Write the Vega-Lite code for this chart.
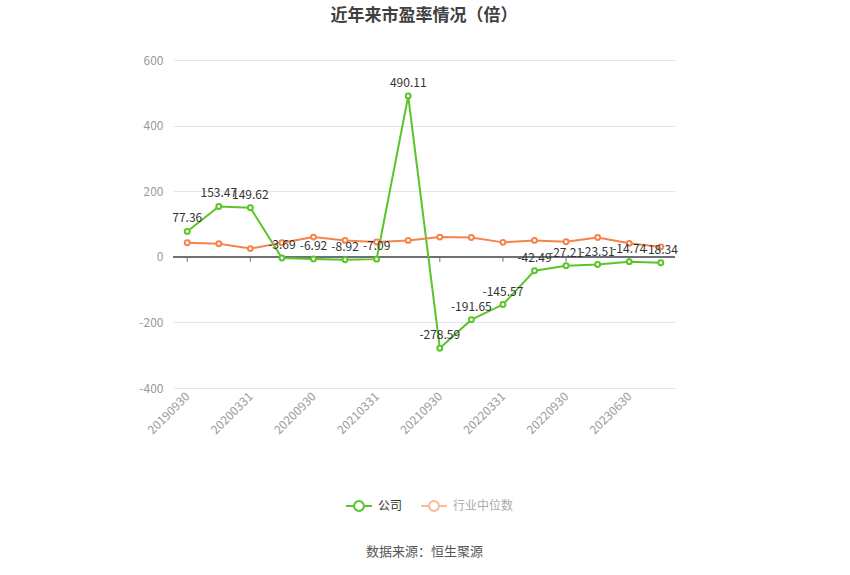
{
  "$schema": "https://vega.github.io/schema/vega-lite/v6.json",
  "autosize": "none",
  "width": 502,
  "height": 328,
  "padding": {"left": 173, "top": 60, "right": 175, "bottom": 187},
  "background": "white",
  "view": {"stroke": null},
  "title": {
    "text": "近年来市盈率情况（倍）",
    "anchor": "middle",
    "offset": 29,
    "fontSize": 17,
    "fontWeight": "bold",
    "color": "#404040",
    "font": "Noto Sans CJK SC"
  },
  "data": {
    "values": [
      {"date": "20190930", "series": "公司", "value": 77.36},
      {"date": "20191231", "series": "公司", "value": 153.47},
      {"date": "20200331", "series": "公司", "value": 149.62},
      {"date": "20200630", "series": "公司", "value": -3.69},
      {"date": "20200930", "series": "公司", "value": -6.92},
      {"date": "20201231", "series": "公司", "value": -8.92},
      {"date": "20210331", "series": "公司", "value": -7.09},
      {"date": "20210630", "series": "公司", "value": 490.11},
      {"date": "20210930", "series": "公司", "value": -278.59},
      {"date": "20211231", "series": "公司", "value": -191.65},
      {"date": "20220331", "series": "公司", "value": -145.57},
      {"date": "20220630", "series": "公司", "value": -42.49},
      {"date": "20220930", "series": "公司", "value": -27.21},
      {"date": "20221231", "series": "公司", "value": -23.51},
      {"date": "20230630", "series": "公司", "value": -14.74},
      {"date": "20230930", "series": "公司", "value": -18.34},
      {"date": "20190930", "series": "行业中位数", "value": 43},
      {"date": "20191231", "series": "行业中位数", "value": 40},
      {"date": "20200331", "series": "行业中位数", "value": 25},
      {"date": "20200630", "series": "行业中位数", "value": 43},
      {"date": "20200930", "series": "行业中位数", "value": 60},
      {"date": "20201231", "series": "行业中位数", "value": 50},
      {"date": "20210331", "series": "行业中位数", "value": 45},
      {"date": "20210630", "series": "行业中位数", "value": 50},
      {"date": "20210930", "series": "行业中位数", "value": 60},
      {"date": "20211231", "series": "行业中位数", "value": 59},
      {"date": "20220331", "series": "行业中位数", "value": 44},
      {"date": "20220630", "series": "行业中位数", "value": 50},
      {"date": "20220930", "series": "行业中位数", "value": 46},
      {"date": "20221231", "series": "行业中位数", "value": 59},
      {"date": "20230630", "series": "行业中位数", "value": 41},
      {"date": "20230930", "series": "行业中位数", "value": 30}
    ]
  },
  "encoding": {
    "x": {
      "field": "date",
      "type": "ordinal",
      "scale": {
        "type": "point",
        "padding": 0.45,
        "domain": ["20190930", "20191231", "20200331", "20200630", "20200930", "20201231", "20210331", "20210630", "20210930", "20211231", "20220331", "20220630", "20220930", "20221231", "20230630", "20230930"]
      },
      "axis": {
        "values": ["20190930", "20200331", "20200930", "20210331", "20210930", "20220331", "20220930", "20230630"],
        "labelAngle": -45,
        "labelAlign": "right",
        "labelBaseline": "middle",
        "labelColor": "#9a9a9a",
        "labelFontSize": 12,
        "labelFont": "Noto Sans CJK SC",
        "labelPadding": 6,
        "domain": false,
        "ticks": false,
        "grid": false,
        "title": "数据来源：恒生聚源",
        "titleFont": "Noto Sans CJK SC",
        "titleFontSize": 13,
        "titleFontWeight": "normal",
        "titleColor": "#555555",
        "titleY": 157,
        "titleX": 251,
        "titleAlign": "center",
        "titleBaseline": "top"
      }
    },
    "y": {
      "field": "value",
      "type": "quantitative",
      "scale": {"domain": [-400, 600], "nice": false, "zero": false},
      "axis": {
        "values": [-400, -200, 0, 200, 400, 600],
        "labelExpr": "toString(datum.value)",
        "title": null,
        "domain": false,
        "ticks": false,
        "labelColor": "#9a9a9a",
        "labelFontSize": 12,
        "labelFont": "Noto Sans CJK SC",
        "labelPadding": 10,
        "gridColor": "#e0e6f1",
        "gridWidth": 1
      }
    }
  },
  "layer": [
    {
      "mark": {"type": "rule", "color": "#6e7079", "strokeWidth": 1},
      "encoding": {"x": null, "y": {"datum": 0}}
    },
    {
      "transform": [
        {"filter": {"field": "series", "equal": "公司"}},
        {"filter": {"field": "date", "oneOf": ["20190930", "20200331", "20200930", "20210331", "20210930", "20220331", "20220930", "20230630"]}}
      ],
      "mark": {"type": "rule", "color": "#6e7079", "strokeWidth": 1},
      "encoding": {"y": {"datum": 0}, "y2": {"datum": -15}}
    },
    {
      "mark": {
        "type": "line",
        "strokeWidth": 2,
        "point": {"filled": false, "fill": "white", "size": 24, "strokeWidth": 2}
      },
      "encoding": {
        "color": {
          "field": "series",
          "type": "nominal",
          "scale": {"domain": ["公司", "行业中位数"], "range": ["#5ac52a", "#f7834c"]},
          "legend": {
            "title": null,
            "orient": "none",
            "direction": "horizontal",
            "legendX": 172,
            "legendY": 432,
            "symbolType": "M-1,0L-0.38,0M0.38,0L1,0M-0.38,0A0.38,0.38,0,1,1,0.38,0A0.38,0.38,0,1,1,-0.38,0",
            "symbolSize": 676,
            "symbolStrokeWidth": 2,
            "symbolFillColor": "white",
            "labelFont": "Noto Sans CJK SC",
            "labelFontSize": 12,
            "labelOffset": 5,
            "columnPadding": 14,
            "encode": {
              "labels": {"update": {"fill": {"signal": "datum.label === '公司' ? '#333333' : '#aaaaaa'"}}},
              "symbols": {"update": {"opacity": {"signal": "datum.label === '公司' ? 1 : 0.55"}, "fill": {"value": "white"}}}
            }
          }
        }
      }
    },
    {
      "transform": [
        {"filter": {"field": "series", "equal": "公司"}},
        {"calculate": "toString(datum.value)", "as": "label"}
      ],
      "mark": {
        "type": "text",
        "baseline": "bottom",
        "dy": -6,
        "fontSize": 12,
        "color": "#333333",
        "font": "Noto Sans CJK SC"
      },
      "encoding": {"text": {"field": "label", "type": "nominal"}}
    }
  ]
}
